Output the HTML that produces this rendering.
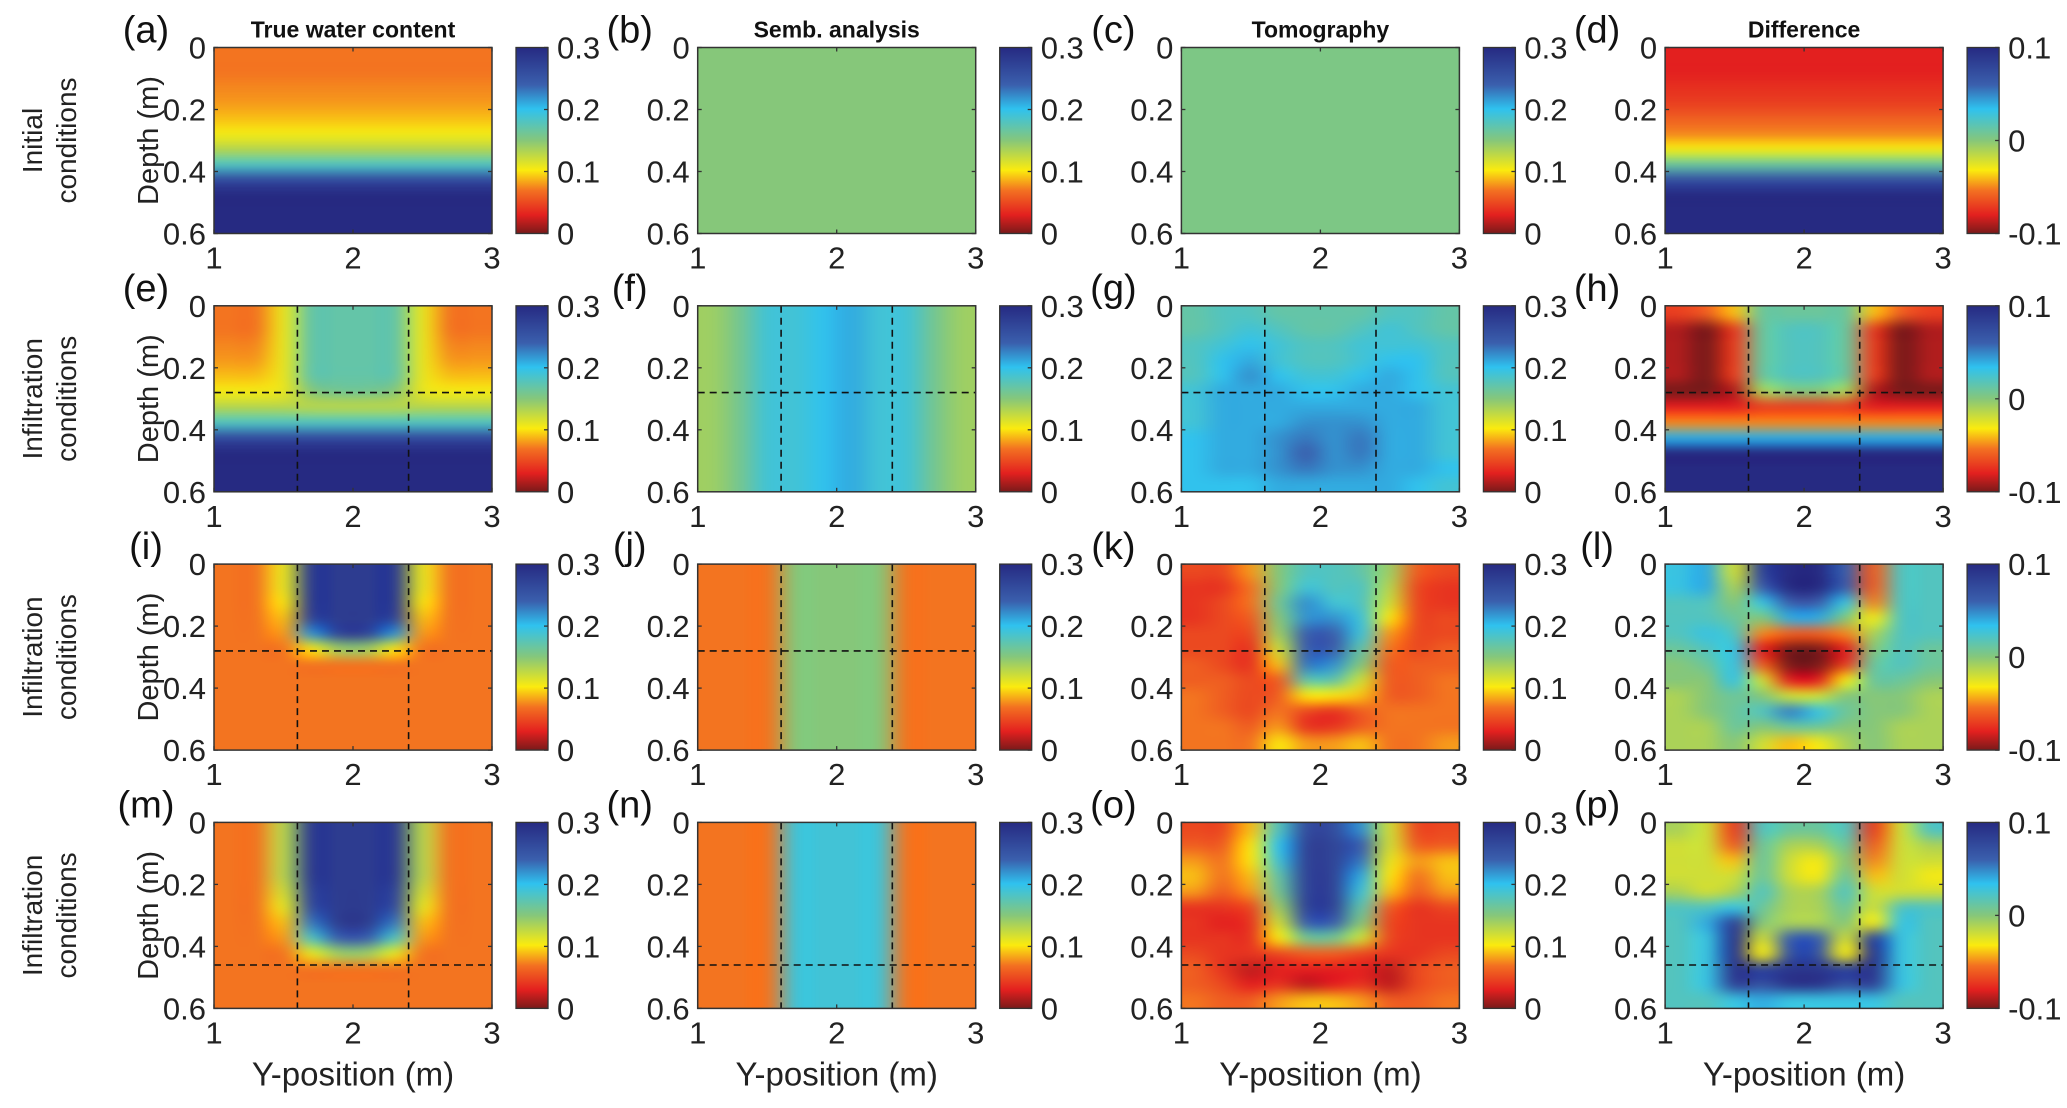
<!DOCTYPE html>
<html><head><meta charset="utf-8"><style>
html,body{margin:0;padding:0;background:#fff;}
#wrap{position:relative;width:2067px;height:1108px;overflow:hidden;}
canvas{position:absolute;}
svg{position:absolute;left:0;top:0;display:block;font-family:"Liberation Sans",Arial,sans-serif;}
</style></head><body>
<div id="wrap">
<svg id="fig" width="2067" height="1108" viewBox="0 0 2067 1108">
<defs>
<linearGradient id="cmap" x1="0" y1="1" x2="0" y2="0">
<stop offset="0" stop-color="#7a1a1a"/><stop offset="0.1" stop-color="#e3201f"/><stop offset="0.23" stop-color="#f37021"/>
<stop offset="0.34" stop-color="#fbeb0e"/><stop offset="0.5" stop-color="#86c77a"/><stop offset="0.67" stop-color="#2fc2ef"/>
<stop offset="0.8" stop-color="#3a5fad"/><stop offset="1" stop-color="#262a82"/>
</linearGradient>
</defs>
</svg>
</div>
<script>
// ---- data (water content in %, difference in %) ----
const colTitles=["True water content","Semb. analysis","Tomography","Difference"];
const rowLabels=[["Initial","conditions"],["Infiltration","conditions"],["Infiltration","conditions"],["Infiltration","conditions"]];
const panelLetters=["a","b","c","d","e","f","g","h","i","j","k","l","m","n","o","p"];
const xTicks=[1,2,3];
const yTicks=[0,0.2,0.4,0.6];
const wcTicks=[0,0.1,0.2,0.3];
const diffTicks=[-0.1,0,0.1];
const dashY=[null,0.28,0.28,0.46];
const dashX=[1.6,2.4];
const panelA=[[7,7,7,7,7,7,7,7,7,7],[7,7,7,7,7,7,7,7,7,7],[7.5,7.5,7.5,7.5,7.5,7.5,7.5,7.5,7.5,7.5],[8,8,8,8,8,8,8,8,8,8],[9,9,9,9,9,9,9,9,9,9],[10.5,10.5,10.5,10.5,10.5,10.5,10.5,10.5,10.5,10.5],[13,13,13,13,13,13,13,13,13,13],[18,18,18,18,18,18,18,18,18,18],[26,26,26,26,26,26,26,26,26,26],[30,30,30,30,30,30,30,30,30,30],[30,30,30,30,30,30,30,30,30,30],[30,30,30,30,30,30,30,30,30,30]];
const panelB=[[15,15,15,15,15,15,15,15,15,15],[15,15,15,15,15,15,15,15,15,15],[15,15,15,15,15,15,15,15,15,15],[15,15,15,15,15,15,15,15,15,15],[15,15,15,15,15,15,15,15,15,15],[15,15,15,15,15,15,15,15,15,15],[15,15,15,15,15,15,15,15,15,15],[15,15,15,15,15,15,15,15,15,15],[15,15,15,15,15,15,15,15,15,15],[15,15,15,15,15,15,15,15,15,15],[15,15,15,15,15,15,15,15,15,15],[15,15,15,15,15,15,15,15,15,15]];
const panelC=[[15.5,15.5,15.5,15.5,15.5,15.5,15.5,15.5,15.5,15.5],[15.5,15.5,15.5,15.5,15.5,15.5,15.5,15.5,15.5,15.5],[15.5,15.5,15.5,15.5,15.5,15.5,15.5,15.5,15.5,15.5],[15.5,15.5,15.5,15.5,15.5,15.5,15.5,15.5,15.5,15.5],[15.5,15.5,15.5,15.5,15.5,15.5,15.5,15.5,15.5,15.5],[15.5,15.5,15.5,15.5,15.5,15.5,15.5,15.5,15.5,15.5],[15.5,15.5,15.5,15.5,15.5,15.5,15.5,15.5,15.5,15.5],[15.5,15.5,15.5,15.5,15.5,15.5,15.5,15.5,15.5,15.5],[15.5,15.5,15.5,15.5,15.5,15.5,15.5,15.5,15.5,15.5],[15.5,15.5,15.5,15.5,15.5,15.5,15.5,15.5,15.5,15.5],[15.5,15.5,15.5,15.5,15.5,15.5,15.5,15.5,15.5,15.5],[15.5,15.5,15.5,15.5,15.5,15.5,15.5,15.5,15.5,15.5]];
const panelD=[[-8,-8,-8,-8,-8,-8,-8,-8,-8,-8],[-8,-8,-8,-8,-8,-8,-8,-8,-8,-8],[-7.5,-7.5,-7.5,-7.5,-7.5,-7.5,-7.5,-7.5,-7.5,-7.5],[-7,-7,-7,-7,-7,-7,-7,-7,-7,-7],[-6,-6,-6,-6,-6,-6,-6,-6,-6,-6],[-5,-5,-5,-5,-5,-5,-5,-5,-5,-5],[-3,-3,-3,-3,-3,-3,-3,-3,-3,-3],[1,1,1,1,1,1,1,1,1,1],[7,7,7,7,7,7,7,7,7,7],[10,10,10,10,10,10,10,10,10,10],[10,10,10,10,10,10,10,10,10,10],[10,10,10,10,10,10,10,10,10,10]];
const panelE=[[7,7,11,17,17,17,17,11,7,7],[7,7,11,17,17,17,17,11,7,7],[7.5,7.5,11,17,17,17,17,11,7.5,7.5],[8,8,11,17,17,17,17,11,8,8],[9,9,11,17,17,17,17,11,9,9],[10.5,10.5,11,15,16,16,15,11,10.5,10.5],[13,13,13,13,13,13,13,13,13,13],[18,18,18,18,18,18,18,18,18,18],[26,26,26,26,26,26,26,26,26,26],[30,30,30,30,30,30,30,30,30,30],[30,30,30,30,30,30,30,30,30,30],[30,30,30,30,30,30,30,30,30,30]];
const panelF=[[14,16,19,19,20,21,19,19,16,14],[14,16,19,19,20,21,19,19,16,14],[14,16,19,19,20,21,19,19,16,14],[14,16,19,19,20,21,19,19,16,14],[14,16,19,19,20,21,19,19,16,14],[14,16,19,19,20,21,19,19,16,14],[14,16,19,19,20,21,19,19,16,14],[14,16,19,19,20,21,19,19,16,14],[14,16,19,19,20,21,19,19,16,14],[14,16,19,19,20,21,19,19,16,14],[14,16,19,19,20,21,19,19,16,14],[14,16,19,19,20,21,19,19,16,14]];
const panelG=[[17,18,18,17,17,17,17,18,18,17],[17,18,19,18,17,17,18,19,18,17],[18,19,20,19,18,18,19,19,19,18],[18,20,21,19,18,18,19,20,20,18],[18,20,22,20,19,19,20,21,20,18],[19,21,21,21,20,20,21,21,20,19],[19,21,21,21,21,21,21,21,21,19],[19,21,21,21,22,22,22,21,21,19],[20,21,21,22,23,22,23,21,21,19],[20,21,21,22,24,22,23,21,21,19],[20,21,21,22,23,22,22,21,21,20],[20,20,20,21,21,21,21,21,20,19]];
const panelH=[[-7,-6,-4,1,1,1,1,-4,-6,-7],[-9,-10,-7,1,2,2,1,-7,-10,-9],[-9,-10,-7,1,2,2,1,-7,-10,-9],[-9,-10,-7,1,2,2,1,-7,-10,-9],[-9,-10,-7,1,2,2,1,-7,-10,-9],[-10,-10,-9,-1,0,0,-1,-9,-10,-10],[-8,-8,-8,-7,-7,-7,-7,-8,-8,-8],[-5,-5,-5,-5,-5,-5,-5,-5,-5,-5],[4,4,4,4,4,4,4,4,4,4],[10,10,10,10,10,10,10,10,10,10],[10,10,10,10,10,10,10,10,10,10],[10,10,10,10,10,10,10,10,10,10]];
const panelI=[[7,7,11,28,28,28,28,11,7,7],[7,7,11,28,28,28,28,11,7,7],[7,7,10,28,28,28,28,10,7,7],[7,7,9,27,28,28,27,9,7,7],[7,7,8,22,27,27,22,8,7,7],[7,7,7,10,14,14,10,7,7,7],[7,7,7,7,7,7,7,7,7,7],[7,7,7,7,7,7,7,7,7,7],[7,7,7,7,7,7,7,7,7,7],[7,7,7,7,7,7,7,7,7,7],[7,7,7,7,7,7,7,7,7,7],[7,7,7,7,7,7,7,7,7,7]];
const panelJ=[[7,7,7,15,15,15,15,7,7,7],[7,7,7,15,15,15,15,7,7,7],[7,7,7,15,15,15,15,7,7,7],[7,7,7,15,15,15,15,7,7,7],[7,7,7,15,15,15,15,7,7,7],[7,7,7,15,15,15,15,7,7,7],[7,7,7,15,15,15,15,7,7,7],[7,7,7,15,15,15,15,7,7,7],[7,7,7,15,15,15,15,7,7,7],[7,7,7,15,15,15,15,7,7,7],[7,7,7,15,15,15,15,7,7,7],[7,7,7,15,15,15,15,7,7,7]];
const panelK=[[5,5,8,15,18,18,17,14,6,5],[4,4,7,15,19,18,18,13,5,4],[4,5,7,16,22,19,18,12,5,4],[4,5,6,15,22,22,19,10,5,5],[5,5,5,14,24,24,19,8,5,5],[5,5,4,12,24,24,17,7,5,6],[6,5,4,9,23,22,15,6,6,6],[6,6,5,6,17,17,12,6,6,7],[7,6,5,6,10,10,9,6,6,7],[7,6,5,7,5,4,6,7,7,7],[7,7,6,8,4,4,6,7,7,7],[7,7,7,10,8,8,9,7,7,8]];
const panelL=[[3,4,-2,8,10,10,6,-6,2,2],[3,4,-1,6,10,10,6,-6,2,2],[2,2,0,3,6,6,3,-5,2,2],[2,2,1,0,4,4,0,-3,2,2],[2,3,2,-5,-6,-6,-5,-1,2,2],[1,2,3,-8,-10,-10,-8,0,2,1],[0,1,3,-6,-10,-10,-7,1,2,1],[0,0,3,-2,-8,-8,-3,1,1,0],[-1,0,1,0,-2,-2,0,0,0,-1],[-1,0,1,2,5,3,1,0,0,-1],[-1,-1,1,0,1,1,0,0,-1,-1],[-1,-1,0,-2,-4,-3,-1,0,-1,-1]];
const panelM=[[7,7,13,28,28,28,28,13,7,7],[7,7,13,28,28,28,28,13,7,7],[7,7,13,28,28,28,28,13,7,7],[7,7,13,28,28,28,28,13,7,7],[7,7,12,27,28,28,27,12,7,7],[7,7,11,26,28,28,26,11,7,7],[7,7,9,23,28,28,23,9,7,7],[7,7,8,18,24,24,18,8,7,7],[7,7,7,11,14,14,11,7,7,7],[7,7,7,7,7,7,7,7,7,7],[7,7,7,7,7,7,7,7,7,7],[7,7,7,7,7,7,7,7,7,7]];
const panelN=[[7,7,7,19,19,19,19,7,7,7],[7,7,7,19,19,19,19,7,7,7],[7,7,7,19,19,19,19,7,7,7],[7,7,7,19,19,19,19,7,7,7],[7,7,7,19,19,19,19,7,7,7],[7,7,7,19,19,19,19,7,7,7],[7,7,7,19,19,19,19,7,7,7],[7,7,7,19,19,19,19,7,7,7],[7,7,7,19,19,19,19,7,7,7],[7,7,7,19,19,19,19,7,7,7],[7,7,7,19,19,19,19,7,7,7],[7,7,7,19,19,19,19,7,7,7]];
const panelO=[[5,5,9,18,26,26,22,12,5,5],[6,6,10,20,27,27,24,12,6,6],[8,7,10,19,27,27,23,11,8,9],[9,7,9,17,27,27,21,10,7,9],[8,6,8,16,27,27,19,9,6,8],[4,4,5,14,27,27,17,6,4,5],[4,3,4,12,24,24,15,5,4,4],[4,4,4,10,16,16,12,5,4,4],[5,4,4,5,6,6,5,4,4,5],[6,4,2,3,3,3,3,2,5,6],[6,5,3,4,2,3,4,2,5,6],[7,6,6,8,9,9,8,6,6,7]];
const panelP=[[-1,-2,-7,2,1,1,2,-7,-2,2],[-2,-2,-6,1,-1,-1,1,-6,-2,-1],[-2,-2,-4,1,-2,-3,0,-5,-2,-2],[-2,-2,-2,1,-2,-3,1,-4,-2,-3],[-1,-2,-1,2,-1,-1,2,-2,-2,-2],[2,2,3,1,-1,-1,1,-2,2,2],[2,4,8,0,-1,-1,0,-3,3,2],[2,3,9,-2,6,6,-2,8,3,2],[2,3,9,-3,7,7,-3,9,3,2],[2,3,9,8,9,9,8,9,3,2],[2,3,8,7,9,9,7,8,3,2],[2,2,3,4,3,3,3,3,2,2]];
const panels=[panelA,panelB,panelC,panelD,panelE,panelF,panelG,panelH,panelI,panelJ,panelK,panelL,panelM,panelN,panelO,panelP];

// ---- layout ----
const X0=214,DX=483.7,W=278,Y0=47.5,DY=258.3,H=186,CBO=302,CBW=32;
const NS="http://www.w3.org/2000/svg";
const svg=document.getElementById('fig');
const wrap=document.getElementById('wrap');
function mk(tag,attrs,parent){const e=document.createElementNS(NS,tag);for(const k in attrs)e.setAttribute(k,attrs[k]);(parent||svg).appendChild(e);return e;}
const stops=[[0,[122,26,26]],[0.1,[227,32,31]],[0.23,[243,112,33]],[0.34,[251,235,14]],[0.5,[134,199,122]],[0.67,[47,194,239]],[0.8,[58,95,173]],[1,[38,42,130]]];
function cmap(t){t=Math.max(0,Math.min(1,t));for(let i=1;i<stops.length;i++){if(t<=stops[i][0]){const a=stops[i-1],b=stops[i];const f=(t-a[0])/(b[0]-a[0]);return a[1].map((v,k)=>Math.round(v+(b[1][k]-v)*f));}}return [38,42,130];}

for(let r=0;r<4;r++){
  const py=Y0+r*DY;
  const rl=mk('text',{x:0,y:0,'font-size':28,'text-anchor':'middle',fill:'#222',transform:`translate(46,${py+H/2}) rotate(-90)`});
  
  
  mk('tspan',{x:0,dy:-4},rl).textContent=rowLabels[r][0];
  mk('tspan',{x:0,dy:34},rl).textContent=rowLabels[r][1];
  for(let c=0;c<4;c++){
    const idx=r*4+c, px=X0+c*DX, data=panels[idx], isDiff=(c===3);
    const vmin=isDiff?-10:0, vmax=isDiff?10:30;
    const g=mk('g',{});
    
    
    const xs=v=>px+(v-1)/2*W, ys=v=>py+v/0.6*H;
    const nr=data.length,nc=data[0].length;
    const small=document.createElement('canvas');small.width=nc;small.height=nr;
    const sc=small.getContext('2d');const img=sc.createImageData(nc,nr);
    for(let i=0;i<nr;i++)for(let j=0;j<nc;j++){const col=cmap((data[i][j]-vmin)/(vmax-vmin));const o=(i*nc+j)*4;img.data[o]=col[0];img.data[o+1]=col[1];img.data[o+2]=col[2];img.data[o+3]=255;}
    sc.putImageData(img,0,0);
    const big=document.createElement('canvas');
    
    
    big.width=Math.round(W);big.height=Math.round(H);
    big.style.left=Math.round(px)+'px';big.style.top=Math.round(py)+'px';
    const bc=big.getContext('2d');bc.imageSmoothingEnabled=true;bc.imageSmoothingQuality='high';
    bc.drawImage(small,0,0,big.width,big.height);
    wrap.insertBefore(big,svg);
    if(r>0){
      dashX.forEach(v=>{const l=mk('line',{x1:xs(v),x2:xs(v),y1:py,y2:py+H,stroke:'#111','stroke-width':1.6,'stroke-dasharray':'7,5'},g);});
      const l=mk('line',{x1:px,x2:px+W,y1:ys(dashY[r]),y2:ys(dashY[r]),stroke:'#111','stroke-width':1.6,'stroke-dasharray':'7,5'},g);
      
      
    }
    const fr=mk('rect',{x:px,y:py,width:W,height:H,fill:'none',stroke:'#333','stroke-width':1.5},g);
    
    
    xTicks.forEach(v=>{
      mk('line',{x1:xs(v),x2:xs(v),y1:py+H,y2:py+H-4,stroke:'#333','stroke-width':1.3},g);
      mk('line',{x1:xs(v),x2:xs(v),y1:py,y2:py+4,stroke:'#333','stroke-width':1.3},g);
      const t=mk('text',{x:xs(v),y:py+H+35,'font-size':31,'text-anchor':'middle',fill:'#222'},g);
      
      
      t.textContent=v;
    });
    yTicks.forEach(v=>{
      mk('line',{x1:px,x2:px+4,y1:ys(v),y2:ys(v),stroke:'#333','stroke-width':1.3},g);
      mk('line',{x1:px+W,x2:px+W-4,y1:ys(v),y2:ys(v),stroke:'#333','stroke-width':1.3},g);
      const t=mk('text',{x:px-8,y:ys(v)+11,'font-size':31,'text-anchor':'end',fill:'#222'},g);
      
      
      t.textContent=v;
    });
    const lt=mk('text',{x:px-68,y:py-5,'font-size':38,'text-anchor':'middle',fill:'#111'},g);
    
    
    lt.textContent='('+panelLetters[idx]+')';
    if(c===0){
      const yl=mk('text',{x:0,y:0,'font-size':29,'text-anchor':'middle',fill:'#222',transform:`translate(${px-56},${py+H/2}) rotate(-90)`},g);
      
      
      yl.textContent='Depth (m)';
    }
    if(r===0){
      const ct=mk('text',{x:px+W/2,y:py-10,'font-size':23,'font-weight':'bold','text-anchor':'middle',fill:'#111'},g);
      
      
      ct.textContent=colTitles[c];
    }
    if(r===3){
      const xt=mk('text',{x:px+W/2,y:py+H+77,'font-size':33,'text-anchor':'middle',fill:'#222'},g);
      
      
      xt.textContent='Y-position (m)';
    }
    const cx=px+CBO;
    const cb=mk('rect',{x:cx,y:py,width:CBW,height:H,fill:'url(#cmap)',stroke:'#333','stroke-width':1.3},g);
    
    
    const ticks=isDiff?diffTicks:wcTicks, tmin=ticks[0], tmax=ticks[ticks.length-1];
    ticks.forEach(v=>{
      const yy=py+H-(v-tmin)/(tmax-tmin)*H;
      mk('line',{x1:cx+CBW,x2:cx+CBW-4,y1:yy,y2:yy,stroke:'#333','stroke-width':1.3},g);
      const t=mk('text',{x:cx+CBW+9,y:yy+11,'font-size':31,fill:'#222'},g);
      
      
      t.textContent=v;
    });
  }
}
</script>
</body></html>
